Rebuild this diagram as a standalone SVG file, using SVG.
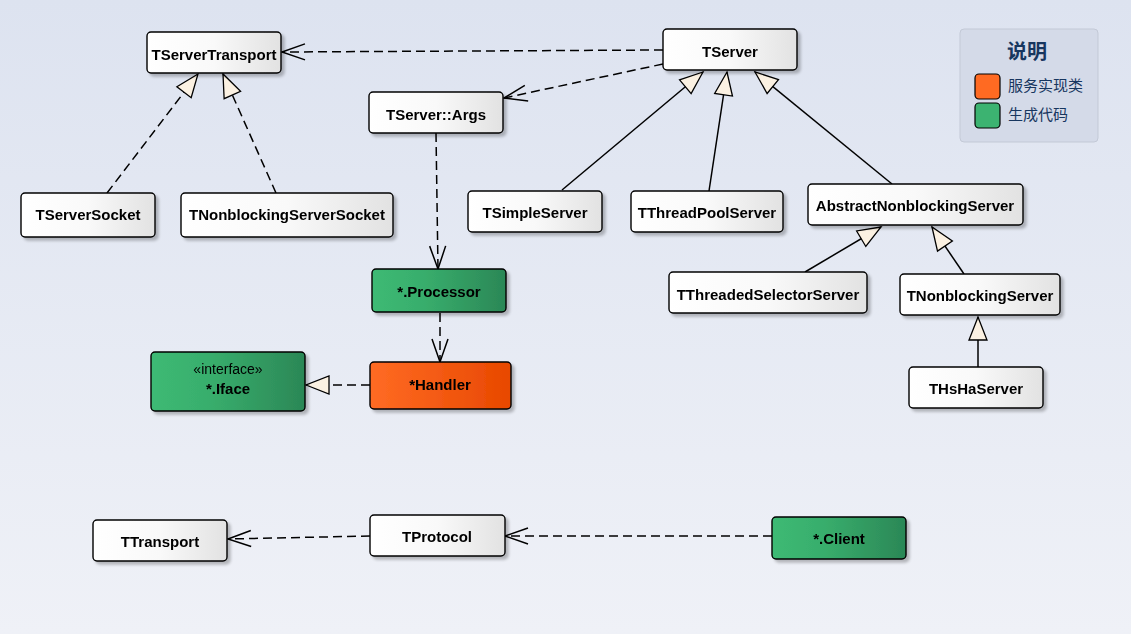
<svg xmlns="http://www.w3.org/2000/svg" width="1131" height="634" viewBox="0 0 1131 634">
<style>
.box{stroke:#000;stroke-width:1.4}
.w{fill:url(#gw)}
.g{fill:url(#gg)}
.o{fill:url(#go)}
.lbl{font-family:"Liberation Sans",Arial,sans-serif;font-weight:bold;font-size:15px;text-anchor:middle;fill:#000}
.st{font-family:"Liberation Sans",Arial,sans-serif;font-size:14px;text-anchor:middle;fill:#000}
.e{fill:none;stroke:#000;stroke-width:1.5}
.d{stroke-dasharray:9 5}
.op{marker-end:url(#open)}
.tr{marker-end:url(#tri)}
.leg{font-family:"Noto Sans CJK SC",sans-serif;fill:#17365f}
</style>
<defs>
<linearGradient id="bg" x1="0" y1="0" x2="0" y2="1">
<stop offset="0" stop-color="#dde3f0"/>
<stop offset="1" stop-color="#eff1f7"/>
</linearGradient>
<linearGradient id="gw" x1="0" y1="0" x2="1" y2="0">
<stop offset="0" stop-color="#ffffff"/>
<stop offset="0.5" stop-color="#f9f9f9"/>
<stop offset="1" stop-color="#e2e2e2"/>
</linearGradient>
<linearGradient id="gg" x1="0" y1="0" x2="1" y2="0">
<stop offset="0" stop-color="#3dba74"/>
<stop offset="0.4" stop-color="#38ad6c"/>
<stop offset="1" stop-color="#2b8756"/>
</linearGradient>
<linearGradient id="go" x1="0" y1="0" x2="1" y2="0">
<stop offset="0" stop-color="#ff6b24"/>
<stop offset="1" stop-color="#e84800"/>
</linearGradient>
<filter id="sh" x="-10%" y="-10%" width="130%" height="140%">
<feGaussianBlur in="SourceAlpha" stdDeviation="1.5"/>
<feOffset dx="3" dy="3" result="b"/>
<feComponentTransfer><feFuncA type="linear" slope="0.25"/></feComponentTransfer>
<feMerge><feMergeNode/><feMergeNode in="SourceGraphic"/></feMerge>
</filter>
<marker id="open" markerUnits="userSpaceOnUse" markerWidth="30" markerHeight="30" refX="0" refY="0" orient="auto" style="overflow:visible">
<path d="M -23 -8 L 0 0 L -23 8" fill="none" stroke="#000" stroke-width="1.5" stroke-dasharray="none"/>
</marker>
<marker id="tri" markerUnits="userSpaceOnUse" markerWidth="30" markerHeight="30" refX="0" refY="0" orient="auto" style="overflow:visible">
<path d="M 0 0 L -23 -9 L -23 9 Z" fill="#fbf1e2" stroke="#000" stroke-width="1.3" stroke-dasharray="none"/>
</marker>
</defs>
<rect width="1131" height="634" fill="url(#bg)"/>

<g id="connectors">
<path class="e d op" d="M663,50 L282,52"/>
<path class="e d op" d="M663,64 L504,98"/>
<path class="e d op" d="M436,133 L438,269"/>
<path class="e d op" d="M440,313 L440,362"/>
<path class="e d tr" d="M370,385 L306,385"/>
<path class="e d tr" d="M107,193 L198,74"/>
<path class="e d tr" d="M276,193 L223,74"/>
<path class="e tr" d="M562,190 L703,72"/>
<path class="e tr" d="M709,191 L727,72"/>
<path class="e tr" d="M892,184 L755,72"/>
<path class="e tr" d="M805,272 L881,227"/>
<path class="e tr" d="M964,274 L932,227"/>
<path class="e tr" d="M978,367 L978,317"/>
<path class="e d op" d="M370,536 L228,539"/>
<path class="e d op" d="M772,536 L505,536"/>
</g>

<g id="TServerTransport" filter="url(#sh)"><rect class="box w" x="147" y="32" width="134" height="41" rx="4"/><text class="lbl" x="214" y="60">TServerTransport</text></g>
<g id="TServer" filter="url(#sh)"><rect class="box w" x="663" y="29" width="134" height="41" rx="4"/><text class="lbl" x="730" y="57">TServer</text></g>
<g id="TServerArgs" filter="url(#sh)"><rect class="box w" x="369" y="92" width="134" height="41" rx="4"/><text class="lbl" x="436" y="120">TServer::Args</text></g>
<g id="TServerSocket" filter="url(#sh)"><rect class="box w" x="21" y="193" width="134" height="44" rx="4"/><text class="lbl" x="88" y="220">TServerSocket</text></g>
<g id="TNonblockingServerSocket" filter="url(#sh)"><rect class="box w" x="181" y="193" width="212" height="44" rx="4"/><text class="lbl" x="287" y="220">TNonblockingServerSocket</text></g>
<g id="TSimpleServer" filter="url(#sh)"><rect class="box w" x="468" y="191" width="134" height="41" rx="4"/><text class="lbl" x="535" y="218">TSimpleServer</text></g>
<g id="TThreadPoolServer" filter="url(#sh)"><rect class="box w" x="631" y="191" width="152" height="41" rx="4"/><text class="lbl" x="707" y="218">TThreadPoolServer</text></g>
<g id="AbstractNonblockingServer" filter="url(#sh)"><rect class="box w" x="808" y="184" width="215" height="41" rx="4"/><text class="lbl" x="915" y="211">AbstractNonblockingServer</text></g>
<g id="TThreadedSelectorServer" filter="url(#sh)"><rect class="box w" x="669" y="272" width="198" height="41" rx="4"/><text class="lbl" x="768" y="300">TThreadedSelectorServer</text></g>
<g id="TNonblockingServer" filter="url(#sh)"><rect class="box w" x="900" y="274" width="160" height="41" rx="4"/><text class="lbl" x="980" y="301">TNonblockingServer</text></g>
<g id="THsHaServer" filter="url(#sh)"><rect class="box w" x="909" y="367" width="134" height="41" rx="4"/><text class="lbl" x="976" y="394">THsHaServer</text></g>
<g id="Processor" filter="url(#sh)"><rect class="box g" x="372" y="269" width="134" height="43" rx="4"/><text class="lbl" x="439" y="297">*.Processor</text></g>
<g id="Handler" filter="url(#sh)"><rect class="box o" x="370" y="362" width="141" height="47" rx="4"/><text class="lbl" x="440" y="390">*Handler</text></g>
<g id="Iface" filter="url(#sh)"><rect class="box g" x="151" y="352" width="154" height="59" rx="4"/><text class="st" x="228" y="374">«interface»</text><text class="lbl" x="228" y="394">*.Iface</text></g>
<g id="TTransport" filter="url(#sh)"><rect class="box w" x="93" y="520" width="134" height="41" rx="4"/><text class="lbl" x="160" y="547">TTransport</text></g>
<g id="TProtocol" filter="url(#sh)"><rect class="box w" x="370" y="515" width="135" height="41" rx="4"/><text class="lbl" x="437" y="542">TProtocol</text></g>
<g id="Client" filter="url(#sh)"><rect class="box g" x="772" y="517" width="134" height="42" rx="4"/><text class="lbl" x="839" y="544">*.Client</text></g>

<g id="legend">
<rect x="960" y="29" width="138" height="113" rx="4" fill="#d4dae8" stroke="#c3c9d6" stroke-width="1"/>
<text class="leg" x="1027" y="59" font-size="20" font-weight="bold" text-anchor="middle">说明</text>
<rect x="975" y="74" width="25" height="25" rx="4" fill="#ff6a22" stroke="#000" stroke-width="1.2"/>
<text class="leg" x="1008" y="91" font-size="15">服务实现类</text>
<rect x="975" y="103" width="25" height="25" rx="4" fill="#3cb371" stroke="#000" stroke-width="1.2"/>
<text class="leg" x="1008" y="120" font-size="15">生成代码</text>
</g>
</svg>
